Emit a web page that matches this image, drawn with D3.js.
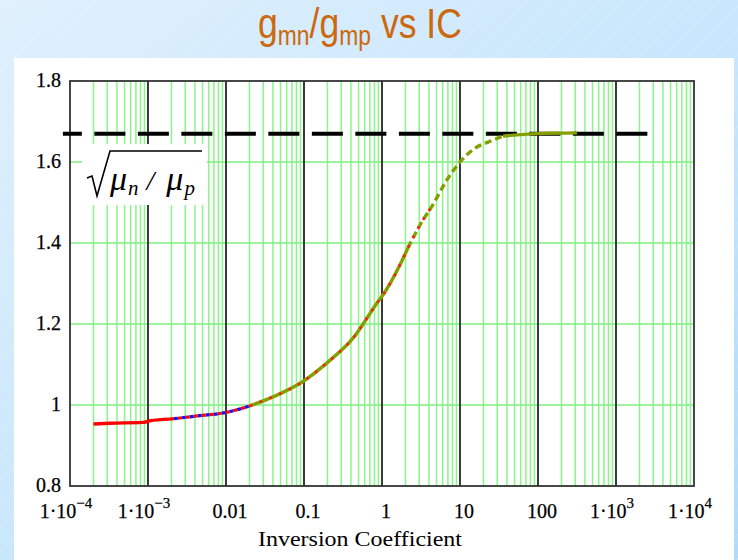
<!DOCTYPE html>
<meta charset="utf-8">
<html>
<head>
<title>gmn/gmp vs IC</title>
<script src="https://d3js.org/d3.v7.min.js"></script>
<style type="text/css">
body { margin: 0; padding: 0; overflow: hidden; }
svg { display: block; }
.tick-label { font-family: 'Liberation Serif', 'Times New Roman', serif; font-size: 20px; fill: #000; stroke: #000; stroke-width: 0.25px; }
</style>
</head>
<body>
<div id="my_dataviz"></div>

<script type="text/javascript">

// curve: inversion coefficient vs gm ratio
var ic    = [2e-4, 3.26e-4, 8.6e-4, 1.06e-3, 1.91e-3, 4.25e-3, 0.0103, 0.0203, 0.0401, 0.097,
             0.197, 0.425, 0.863, 1.09, 1.70, 2.15, 3.36, 4.38, 6.8, 10, 16.5, 22.9, 35.6, 97, 316];
var ratio = [0.953, 0.955, 0.957, 0.961, 0.965, 0.973, 0.982, 0.998, 1.020, 1.058,
             1.104, 1.165, 1.252, 1.279, 1.346, 1.388, 1.457, 1.491, 1.556, 1.600, 1.637, 1.649, 1.664, 1.670, 1.672];

// sqrt(mu_n / mu_p) reference level and its x extent
var refLevel = 1.67;
var refSpan = [8.1e-5, 3160];

// tick values / labels
var xTicks = [1e-4, 1e-3, 0.01, 0.1, 1, 10, 100, 1e3, 1e4];
var xTickLabels = [["1\u00b710", "\u22124"], ["1\u00b710", "\u22123"], ["0.01"], ["0.1"], ["1"], ["10"], ["100"], ["1\u00b710", "3"], ["1\u00b710", "4"]];
var yTicks = [0.8, 1, 1.2, 1.4, 1.6, 1.8];
var yTickLabels = ["0.8", "1", "1.2", "1.4", "1.6", "1.8"];

var W = 738, H = 560;
var margin = {top: 81, right: 44, bottom: 74, left: 70},
    width = W - margin.left - margin.right,
    height = H - margin.top - margin.bottom;

var root = d3.select("#my_dataviz")
  .append("svg")
    .attr("width", W)
    .attr("height", H);

// background gradient with faint diagonal streaks
var defs = root.append("defs");
var grad = defs.append("linearGradient")
    .attr("id", "bg").attr("x1", "0").attr("y1", "0").attr("x2", "1").attr("y2", "1");
grad.append("stop").attr("offset", "0").attr("stop-color", "#e0f0fd");
grad.append("stop").attr("offset", "0.5").attr("stop-color", "#c9e7fc");
grad.append("stop").attr("offset", "1").attr("stop-color", "#b2daf8");
var pat = defs.append("pattern")
    .attr("id", "streak").attr("width", 24).attr("height", 24)
    .attr("patternUnits", "userSpaceOnUse");
pat.append("path").attr("d", "M0,24 L24,0").attr("stroke", "#ffffff").attr("stroke-opacity", 0.35).attr("stroke-width", 0.6);

root.append("rect").attr("width", W).attr("height", H).attr("fill", "url(#bg)");
root.append("rect").attr("width", W).attr("height", H).attr("fill", "url(#streak)");

// white panel
root.append("rect")
  .attr("x", 14).attr("y", 58).attr("width", 720).attr("height", 502)
  .attr("fill", "#ffffff");

// title
var title = root.append("text")
  .attr("y", 38)
  .attr("fill", "#cc680e")
  .style("font-family", "'Liberation Sans Narrow', 'Arial Narrow', 'Liberation Sans', Arial, sans-serif")
  .style("font-size", "42px");
title.append("tspan").text("g");
title.append("tspan").attr("dy", 7).style("font-size", "27px").text("mn");
title.append("tspan").attr("dy", -7).text("/g");
title.append("tspan").attr("dy", 7).style("font-size", "27px").text("mp");
title.append("tspan").attr("dy", -7).text(" vs IC");
var tb = title.node().getBBox();
var sx = 204 / tb.width;
title.attr("transform", "translate(258,0) scale(" + sx + ",1) translate(" + (-tb.x) + ",0)");

var svg = root.append("g")
  .attr("transform", "translate(" + margin.left + "," + margin.top + ")");

var x = d3.scaleLog().domain([1e-4, 1e4]).range([0, width]);
var y = d3.scaleLinear().domain([0.8, 1.8]).range([height, 0]);

// minor vertical grid (2..9 in each decade)
var minor = [];
for (var e = -4; e < 4; e++) {
  for (var m = 2; m <= 9; m++) minor.push(m * Math.pow(10, e));
}
svg.append("g").selectAll("line")
  .data(minor).enter().append("line")
    .attr("x1", function(d) { return x(d); })
    .attr("x2", function(d) { return x(d); })
    .attr("y1", 0).attr("y2", height)
    .attr("stroke", "#8af58a").attr("stroke-width", 1.5);

// horizontal grid
svg.append("g").selectAll("line")
  .data(yTicks.slice(1, -1)).enter().append("line")
    .attr("x1", 0).attr("x2", width)
    .attr("y1", function(d) { return y(d); })
    .attr("y2", function(d) { return y(d); })
    .attr("stroke", "#7ef07e").attr("stroke-width", 1.5);

// decade lines
svg.append("g").selectAll("line")
  .data(xTicks.slice(1, -1)).enter().append("line")
    .attr("x1", function(d) { return x(d); })
    .attr("x2", function(d) { return x(d); })
    .attr("y1", 0).attr("y2", height)
    .attr("stroke", "#3a3a3a").attr("stroke-width", 2);

// frame
svg.append("rect")
  .attr("width", width).attr("height", height)
  .attr("fill", "none").attr("stroke", "#333").attr("stroke-width", 1.8);

// white box behind the formula
svg.append("rect")
  .attr("x", 12).attr("y", 63).attr("width", 125).attr("height", 61)
  .attr("fill", "#ffffff");

// dashed reference line
svg.append("line")
  .attr("x1", x(refSpan[0])).attr("x2", x(refSpan[1]))
  .attr("y1", y(refLevel)).attr("y2", y(refLevel))
  .attr("stroke", "#000").attr("stroke-width", 4)
  .attr("stroke-dasharray", "31,12.5")
  .attr("stroke-dashoffset", 12);

// formula sqrt(mu_n / mu_p)
var fx = 12, fy = 63;
svg.append("path")
  .attr("d", "M" + (fx + 5) + "," + (fy + 34) + " l5,-2 l5,20 l13,-45 l92,0")
  .attr("fill", "none").attr("stroke", "#000").attr("stroke-width", 1.6)
  .attr("stroke-linejoin", "miter");
var ft = svg.append("text")
  .attr("x", fx + 28).attr("y", fy + 46)
  .style("font-family", "'Liberation Serif', 'Times New Roman', serif")
  .style("font-style", "italic")
  .style("font-size", "34px")
  .attr("fill", "#000");
ft.append("tspan").text("\u03bc");
ft.append("tspan").attr("dy", 5).attr("dx", 1).style("font-size", "21px").text("n");
ft.append("tspan").attr("dy", -5).attr("dx", 8).style("font-size", "28px").text("/");
ft.append("tspan").attr("dx", 12).text("\u03bc");
ft.append("tspan").attr("dy", 5).attr("dx", 1).style("font-size", "21px").text("p");

// curve
var pts = ic.map(function(d, i) { return {ic: d, v: ratio[i]}; });
var line = d3.line()
  .x(function(d) { return x(d.ic); })
  .y(function(d) { return y(d.v); })
  .curve(d3.curveMonotoneX);
function part(a, b) {
  return pts.filter(function(d) { return d.ic >= a && d.ic <= b; });
}
function trace(a, b, color, w, dash, off) {
  svg.append("path")
    .datum(part(a, b))
    .attr("d", line)
    .attr("fill", "none")
    .attr("stroke", color)
    .attr("stroke-width", w)
    .attr("stroke-dasharray", dash || null)
    .attr("stroke-dashoffset", off || 0);
}
// olive trace
trace(0.0203, 2.15, "#869f00", 3.4);
trace(2.15, 35.6, "#869f00", 3.4, "7,4");
trace(35.6, 316, "#869f00", 3.4);
// blue trace
trace(1.91e-3, 0.0203, "#1010ff", 3.2, "4,4", 4);
// red trace
trace(2e-4, 1.91e-3, "#ff0000", 3.4);
trace(1.91e-3, 0.0203, "#ff0000", 3.2, "4,4");
trace(0.0203, 4.38, "#ff1a1a", 2.6, "2.5,8");

// y tick labels
svg.append("g").selectAll("text")
  .data(yTicks).enter().append("text")
    .attr("class", "tick-label")
    .attr("x", -9)
    .attr("y", function(d) { return y(d) + 6; })
    .attr("text-anchor", "end")
    .text(function(d, i) { return yTickLabels[i]; });

// x tick labels
var xl = svg.append("g").selectAll("text")
  .data(xTicks).enter().append("text")
    .attr("class", "tick-label")
    .attr("x", function(d, i) { return x(d) + (xTickLabels[i].length > 1 ? -4 : 4); })
    .attr("y", height + 32)
    .attr("text-anchor", "middle");
xl.append("tspan").text(function(d, i) { return xTickLabels[i][0]; });
xl.append("tspan")
  .attr("dy", -10)
  .style("font-size", "15px")
  .text(function(d, i) { return xTickLabels[i][1] || ""; });

// x axis title
svg.append("text")
  .attr("class", "tick-label")
  .attr("x", 188)
  .attr("y", height + 60)
  .attr("textLength", 204)
  .attr("lengthAdjust", "spacingAndGlyphs")
  .style("font-size", "21px")
  .style("stroke-width", "0")
  .text("Inversion Coefficient");

</script>
</body>
</html>
